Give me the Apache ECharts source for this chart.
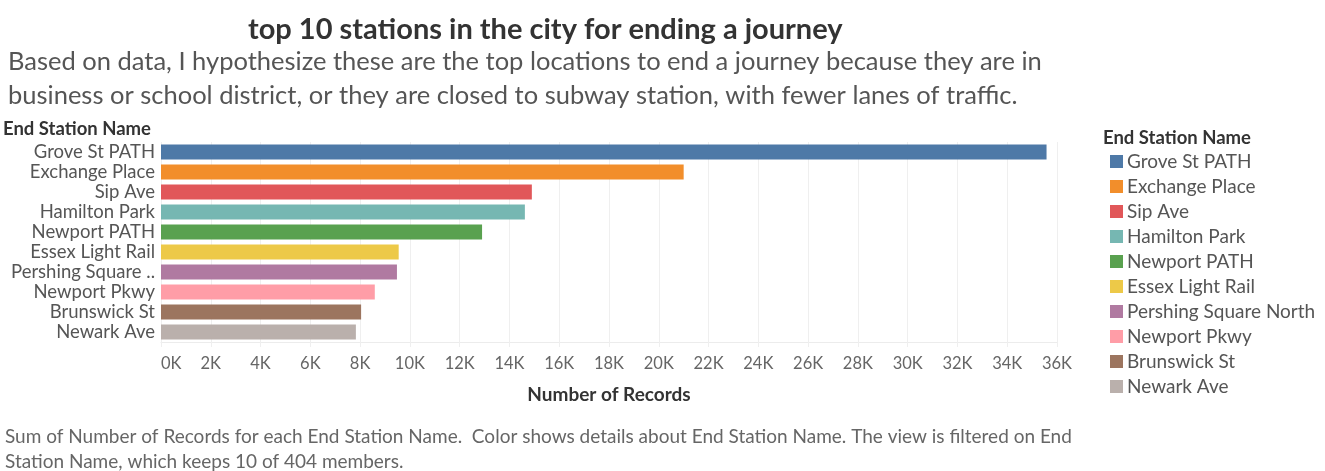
<!DOCTYPE html>
<html>
<head>
<meta charset="utf-8">
<script src="https://cdn.jsdelivr.net/npm/echarts@6/dist/echarts.min.js"></script>
<style>html,body{margin:0;padding:0;background:#fff}#chart{width:1325px;height:471px}</style>
</head>
<body>
<div id="chart"></div>
<script>
const stations = ["Grove St PATH","Exchange Place","Sip Ave","Hamilton Park","Newport PATH","Essex Light Rail","Pershing Square North","Newport Pkwy","Brunswick St","Newark Ave"];
const records = [35580, 21000, 14900, 14620, 12900, 9550, 9480, 8590, 8040, 7830];
const colors = ["#4e79a7","#f28e2b","#e15759","#76b7b2","#59a14f","#edc948","#b07aa1","#ff9da7","#9c755f","#bab0ac"];
const xTicks = [0,2000,4000,6000,8000,10000,12000,14000,16000,18000,20000,22000,24000,26000,28000,30000,32000,34000,36000];

const FONT = "Lato";
const chart = echarts.init(document.getElementById('chart'), null, {renderer:'canvas'});
const series = stations.map((s, i) => ({
  name: s,
  type: 'bar',
  stack: 'all',
  barWidth: 15,
  itemStyle: {color: colors[i]},
  data: stations.map((_, j) => j === i ? records[i] : '-')
}));
chart.setOption({
  animation: false,
  textStyle: {fontFamily: FONT},
  title: [
    {text: 'top 10 stations in the city for ending a journey', left: 243, top: 10,
     textStyle: {fontFamily: FONT, fontSize: 29, fontWeight: 'bold', color: '#333'}},
    {text: 'Based on data, I hypothesize these are the top locations to end a journey because they are in\nbusiness or school district, or they are closed to subway station, with fewer lanes of traffic.',
     left: 3, top: 40,
     textStyle: {fontFamily: FONT, fontSize: 25.5, fontWeight: 'normal', color: '#555', lineHeight: 34}},
    {text: 'Sum of Number of Records for each End Station Name.  Color shows details about End Station Name. The view is filtered on End\nStation Name, which keeps 10 of 404 members.',
     left: 0, top: 419,
     textStyle: {fontFamily: FONT, fontSize: 19, fontWeight: 'normal', color: '#666', lineHeight: 25}}
  ],
  legend: {
    orient: 'vertical', left: 1105, top: 147,
    data: stations,
    icon: 'rect', itemWidth: 13, itemHeight: 13, itemGap: 6, itemStyle: {borderWidth: 0},
    textStyle: {fontFamily: FONT, fontSize: 19, color: '#555', lineHeight: 19, padding:[0,0,0,-1]}
  },
  graphic: [
    {type: 'text', left: 1103, top: 129,
     style: {text: 'End Station Name', fontFamily: FONT, fontSize: 18.5, fontWeight: 'bold', fill: '#333'}}
  ],
  grid: {left: 161, width: 896, top: 142, height: 200, containLabel: false},
  xAxis: {
    type: 'value', min: 0, max: 36000, interval: 2000,
    name: 'Number of Records', nameLocation: 'middle', nameGap: 43,
    nameTextStyle: {fontFamily: FONT, fontSize: 19, fontWeight: 'bold', color: '#333'},
    axisLine: {show: true, lineStyle: {color: '#ececec'}},
    axisTick: {show: true, length: 5, lineStyle: {color: '#efefef'}},
    splitLine: {show: true, lineStyle: {color: '#efefef', width: 1}},
    axisLabel: {
      formatter: v => (v/1000) + 'K', margin: 13, alignMinLabel: 'left',
      fontFamily: FONT, fontSize: 16.5, color: '#666'
    }
  },
  yAxis: {
    type: 'category', data: stations, inverse: true,
    name: 'End Station Name', nameLocation: 'start', nameGap: 3,
    nameTextStyle: {fontFamily: FONT, fontSize: 18.5, fontWeight: 'bold', color: '#333', align: 'left', padding: [0,0,0,-158]},
    axisLine: {show: false}, axisTick: {show: false},
    axisLabel: {interval: 0, fontFamily: FONT, fontSize: 18.5, color: '#555', margin: 6,
      width: 153, overflow: 'truncate', ellipsis: '..'}
  },
  series: series
});
</script>
</body>
</html>
